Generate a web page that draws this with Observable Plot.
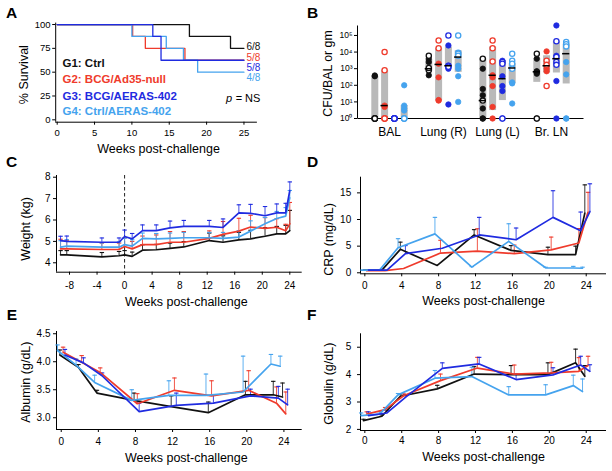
<!DOCTYPE html>
<html><head><meta charset="utf-8">
<script src="https://cdn.jsdelivr.net/npm/d3@7"></script>
<script src="https://cdn.jsdelivr.net/npm/@observablehq/plot@0.6"></script>
<style>
body{margin:0;background:#fff;}
#fig{position:relative;width:612px;height:471px;overflow:hidden;font-family:"Liberation Sans",Arial,Helvetica,sans-serif;background:#fff;}
.panel{position:absolute;}
.letter{position:absolute;font-weight:bold;font-size:15.5px;line-height:1;}
</style></head><body><div id="fig"></div>
<script>
// ---------- shared ----------
const groupNames = ["G1: Ctrl","G2: BCG/Ad35-null","G3: BCG/AERAS-402","G4: Ctrl/AERAS-402"];
const colors = ["#111111","#ef3b2c","#1f2be0","#45a3ee"];

// ---------- A: survival ----------
const survWeeks = [[0,17.7,23.2,25],[0,10.1,11.8,17.1,25],[0,12.8,13.9,25],[0,10.0,14.6,16.9,18.8,25]];
const survPct   = [[100,87.5,75,75],[100,87.5,75,62.5,62.5],[100,87.5,62.5,62.5],[100,87.5,75,62.5,50,50]];
const survLabels = ["6/8","5/8","5/8","4/8"];
const aXTicks = [0,5,10,15,20,25];
const aYTicks = [0,25,50,75,100];

// ---------- B: bacterial burden ----------
const tissues = ["BAL","Lung (R)","Lung (L)","Br. LN"];
const balFilled   = [[390,350,1,1],[6,5,1],[1,1],[100,6,4,3,1]];
const balOpen     = [[1,1,1,1],[10000,800,1,1,1],[1,1,1,1,1,1],[1,1,1]];
const lungRFilled = [[4000,2500,900,1000,400],[2000,300,13,12],[25000,1200,1000,1500,7],[1500,1000,350,10]];
const lungROpen   = [[6000,800,1100],[50000,17000],[100000,1500,1300],[100000,9000,8000,6000]];
const lungLFilled = [[1000,60,25,4,1,1],[400,300,90,5,1],[3000,350,90,45,1],[150,130,8]];
const lungLOpen   = [[4000,12],[50000,17000,2700],[2500,2000,1],[8000,3000,2000,1000]];
const brFilled    = [[4000,700,600,500,650,1],[11000,1500,1000,700],[400000,6000,180,1],[2500,450,1,1]];
const brOpen      = [[8000,1],[3000,1700,90],[45000,5000,2500,1700],[40000,30000,22000]];
const bMedian = [[1,6,1,1],[1000,1800,1500,5000],[12,400,250,1100],[650,1500,4000,8000]];
const bLow    = [[1,1,1,1],[700,12,1200,600],[1,3,12,130],[150,550,550,120]];
const bHigh   = [[350,800,1,6],[3500,17000,20000,12000],[4000,20000,3000,2000],[4000,6000,45000,30000]];
const bYTicks = [1,10,100,1000,10000,100000];

// ---------- C: weight ----------
const cWeeks = [-9.3,-8.4,-3.3,-0.8,0,1.1,2.6,4.6,6.6,8.6,12.3,14.3,16.6,18.3,20.4,22.1,23.4,24];
const cVals = [
  [4.37,4.37,4.28,4.33,4.37,4.30,4.59,4.61,4.67,4.74,5.04,4.96,5.07,5.12,5.24,5.35,5.35,5.50],
  [4.65,4.65,4.62,4.62,4.76,4.65,4.85,4.85,4.96,4.96,5.14,5.33,5.48,5.67,5.61,5.66,5.50,5.82],
  [5.04,5.00,4.96,4.96,5.23,5.12,5.50,5.50,5.63,5.70,5.70,5.65,6.33,6.31,6.20,6.33,6.33,7.38],
  [4.73,4.78,4.73,4.73,4.85,4.78,5.14,5.12,5.14,5.17,5.17,5.14,5.20,5.48,5.82,6.07,6.18,7.04]];
const cErrs = [
  [0.20,0.20,0.20,0.20,0.20,0.20,0.25,0.25,0.25,0.25,0.35,0.30,0.35,0.40,0.40,0.35,0.40,0.95],
  [0.45,0.40,0.30,0.30,0.40,0.35,0.40,0.45,0.50,0.50,0.35,0.60,0.60,0.55,0.50,0.40,0.30,1.00],
  [0.20,0.25,0.20,0.20,0.30,0.25,0.27,0.27,0.32,0.28,0.28,0.40,0.38,0.42,0.43,0.42,0.45,0.40],
  [0.30,0.30,0.20,0.25,0.30,0.30,0.25,0.25,0.25,0.25,0.25,0.28,0.30,0.48,0.30,0.33,0.40,0.34]];

// ---------- D/E/F: lab values ----------
const labWeeks = [0,2,4,8,12,16,20,23,24];
const labDodge = [-0.15,0.2,0.4,-0.4]; // visual dodge per group (weeks)
const dVals = [
  [0.5,0.5,4.4,1.38,7.1,4.2,3.4,3.4,11.2],
  [0.4,0.4,0.8,3.7,4.06,3.6,4.3,5.6,11.4],
  [0.5,0.5,3.6,4.6,7.1,6.2,10.4,7.9,11.5],
  [0.5,0.5,4.7,7.3,1.06,5.9,0.94,0.9,0.85]];
const dErrs = [
  [0,0,1.35,0,1.0,0.9,1.4,1.6,5.3],
  [0,0,0,2.4,4.2,1.6,2.4,2.7,3.7],
  [0,0,1.5,0,3.3,2.2,5.0,3.5,5.2],
  [0,0,1.7,3.1,0.1,3.3,0.1,0.3,0.2]];
const eVals = [
  [4.12,3.90,3.44,3.31,3.20,3.09,3.41,3.41,3.37],
  [4.17,3.99,3.81,3.25,3.49,3.39,3.49,3.26,3.07],
  [4.12,3.98,3.75,3.11,3.22,3.26,3.39,3.35,3.23],
  [4.20,3.94,3.63,3.31,3.40,3.40,3.46,3.96,3.92]];
const eErrs = [
  [0.09,0.05,0.05,0.13,0.19,0.19,0.24,0.24,0.25],
  [0.09,0.12,0.08,0.18,0.22,0.27,0.35,0.29,0.39],
  [0.10,0.09,0.05,0.15,0.22,0.15,0.12,0.21,0.28],
  [0.10,0.11,0.13,0.19,0.26,0.38,0.64,0.17,0.18]];
const fVals = [
  [2.32,2.48,3.21,3.48,4.02,4.00,4.00,4.43,3.94],
  [2.56,2.72,3.23,3.78,4.24,4.02,4.06,4.12,4.33],
  [2.50,2.60,3.17,4.23,4.39,3.82,3.99,4.35,4.12],
  [2.50,2.56,3.26,3.87,3.93,3.26,3.26,3.60,3.38]];
const fErrs = [
  [0.05,0.05,0.08,0.13,0.27,0.33,0.43,0.50,0.39],
  [0.08,0.08,0.07,0.24,0.39,0.33,0.39,0.50,0.34],
  [0.14,0.10,0.08,0.20,0.24,0.20,0.26,0.32,0.24],
  [0.10,0.08,0.05,0.28,0.34,0.30,0.37,0.38,0.46]];

// ---------- helpers ----------
const FONT = "'Liberation Sans', Arial, Helvetica, sans-serif";
const STYLE = `font-family:${FONT};font-size:10px;background:transparent;overflow:visible;color:#000;max-width:none;`;
const fig = document.getElementById("fig");
function place(svg, left, top) {
  const d = document.createElement("div");
  d.className = "panel"; d.style.left = left + "px"; d.style.top = top + "px";
  d.appendChild(svg); fig.appendChild(d);
}
function letter(ch, left, top) {
  const d = document.createElement("div");
  d.className = "letter"; d.textContent = ch;
  d.style.left = left + "px"; d.style.top = top + "px";
  fig.appendChild(d);
}
const cap = {draw(ctx, size) { const r = Math.sqrt(size / Math.PI); ctx.moveTo(-r, 0); ctx.lineTo(r, 0); }};
const sup = ["⁰","¹","²","³","⁴","⁵"];
const drawOrder = [0, 1, 3, 2];
function yTitle(label, dx, dy, size) {
  return Plot.text([label], {text: d => d, frameAnchor: "left", rotate: -90, textAnchor: "middle", lineAnchor: "middle", dx, dy, fontSize: size});
}

// ---------- Panel A ----------
{
  const rows = survWeeks.flatMap((w, gi) => w.map((t, i) => ({gi, t, s: survPct[gi][i]})));
  const marks = [
    Plot.ruleX([-0.2], {stroke: "#000"}),
    Plot.ruleY([-2.5], {stroke: "#000"}),
    Plot.axisX({ticks: aXTicks, tickFormat: d => String(d), tickSize: 3, tickPadding: 3.6, fontSize: 9.5, label: null}),
    Plot.axisY({ticks: aYTicks, tickFormat: d => String(d), tickSize: 3, tickPadding: 2.2, fontSize: 9.5, label: null}),
  ];
  for (const gi of drawOrder) {
    marks.push(Plot.line(rows.filter(d => d.gi === gi), {x: "t", y: "s", curve: "step-after", stroke: colors[gi], strokeWidth: 1.3}));
  }
  const labDy = [24.1, 34.7, 44.7, 55.1];
  survLabels.forEach((lab, gi) => {
    marks.push(Plot.text([lab], {text: d => d, frameAnchor: "top-right", textAnchor: "start", lineAnchor: "middle", dx: -10.9, dy: labDy[gi], fill: colors[gi], fontSize: 10}));
  });
  const legDy = [40.7, 56.7, 72.9, 88.7];
  groupNames.forEach((g, gi) => {
    marks.push(Plot.text([g], {text: d => d, frameAnchor: "top-left", textAnchor: "start", lineAnchor: "middle", dx: 6.8, dy: legDy[gi], fill: colors[gi], fontSize: 11.5, fontWeight: "bold"}));
  });
  marks.push(Plot.text(["p"], {text: d => d, frameAnchor: "top-right", textAnchor: "end", lineAnchor: "middle", dx: -25.2, dy: 75.7, fontSize: 11, fontStyle: "italic"}));
  marks.push(Plot.text(["= NS"], {text: d => d, frameAnchor: "top-right", textAnchor: "end", lineAnchor: "middle", dx: 3, dy: 75.7, fontSize: 11}));
  marks.push(Plot.text(["Weeks post-challenge"], {text: d => d, frameAnchor: "bottom", textAnchor: "middle", lineAnchor: "bottom", dx: 2, dy: 30.3, fontSize: 12.5}));
  marks.push(yTitle("% Survival", -31.9, 2, 12.5));
  const svg = Plot.plot({
    width: 300, height: 160, marginLeft: 55.2, marginRight: 43.1, marginTop: 22.6, marginBottom: 38.3,
    x: {domain: [-0.2, 26.8]}, y: {domain: [-2.5, 101.5]}, style: STYLE, marks
  });
  place(svg, 0, 0);
}

// ---------- Panel B ----------
{
  const bFilled = [balFilled, lungRFilled, lungLFilled, brFilled];
  const bOpen = [balOpen, lungROpen, lungLOpen, brOpen];
  const dots = [];
  tissues.forEach((t, ti) => [0,1,2,3].forEach(gi => {
    bFilled[ti][gi].forEach(v => dots.push({t, gi, v, open: false}));
    bOpen[ti][gi].forEach(v => dots.push({t, gi, v, open: true}));
  }));
  const stats = tissues.flatMap((t, ti) => [0,1,2,3].map(gi => ({t, gi, med: bMedian[ti][gi], lo: bLow[ti][gi], hi: bHigh[ti][gi]})));
  const W = 312, H = 160, ml = 57, mr = 29, mt = 25, mb = 42;
  const fw = W - ml - mr, fh = H - mt - mb;
  const gOff = [-14.7, -4.9, 4.9, 14.7];
  const bandInset = 23.4;
  const marks = [
    Plot.frame({stroke: "#000", strokeWidth: 1, strokeDasharray: `0 ${fw + fh} ${fw + fh}`}),
    Plot.axisX({tickSize: 0, tickPadding: 8.7, fontSize: 12, label: null}),
    Plot.axisY({ticks: bYTicks, tickFormat: d => "10" + sup[Math.round(Math.log10(d))], tickSize: 3, tickPadding: 2, fontSize: 8.5, label: null}),
  ];
  for (let gi = 0; gi < 4; gi++) {
    marks.push(Plot.ruleX(stats.filter(d => d.gi === gi), {x: "t", y1: "lo", y2: "hi", dx: gOff[gi], stroke: "#b9b9b9", strokeWidth: 7}));
  }
  for (let gi = 0; gi < 4; gi++) {
    const c = colors[gi];
    marks.push(Plot.dot(dots.filter(d => d.gi === gi && !d.open), {x: "t", y: "v", dx: gOff[gi], r: 2.7, fill: c, stroke: c, strokeWidth: 0.8}));
    marks.push(Plot.dot(dots.filter(d => d.gi === gi && d.open), {x: "t", y: "v", dx: gOff[gi], r: 2.6, fill: "white", stroke: c, strokeWidth: 1.3}));
  }
  for (let gi = 0; gi < 4; gi++) {
    marks.push(Plot.tickY(stats.filter(d => d.gi === gi && d.med > 1), {x: "t", y: "med", dx: gOff[gi], insetLeft: bandInset, insetRight: bandInset, stroke: "#000", strokeWidth: 1.5}));
  }
  marks.push(yTitle("CFU/BAL or gm", -29.3, 1.5, 12.3));
  const svg = Plot.plot({
    width: W, height: H, marginLeft: ml, marginRight: mr, marginTop: mt, marginBottom: mb,
    x: {type: "band", domain: tissues, range: [60.6, 279.9], padding: 0},
    y: {type: "log", domain: [1, Math.pow(10, 5.6)]},
    style: STYLE, marks
  });
  place(svg, 300, 0);
}

// ---------- line panels C-F ----------
function linePanel(cfg) {
  const rows = [];
  for (let gi = 0; gi < 4; gi++) {
    const w = cfg.weeks(gi);
    cfg.vals[gi].forEach((v, i) => rows.push({gi, x: w[i], v, e: cfg.errs[gi][i]}));
  }
  const marks = [
    Plot.ruleX([cfg.xDomain[0]], {stroke: "#000"}),
    Plot.ruleY([cfg.yDomain[0]], {stroke: "#000"}),
  ];
  if (cfg.dashed) marks.push(Plot.ruleX([0], {stroke: "#222", strokeDasharray: "3.5,2.5", strokeWidth: 1}));
  for (const gi of drawOrder) {
    const r = rows.filter(d => d.gi === gi && d.e > 0);
    marks.push(Plot.ruleX(r, {x: "x", y1: "v", y2: d => d.v + d.e, stroke: colors[gi], strokeWidth: 1, strokeOpacity: 0.85}));
    marks.push(Plot.dot(r, {x: "x", y: d => d.v + d.e, symbol: cap, r: 2.2, stroke: colors[gi], strokeWidth: 1.1, fill: "none"}));
  }
  for (const gi of drawOrder) {
    marks.push(Plot.line(rows.filter(d => d.gi === gi), {x: "x", y: "v", stroke: colors[gi], strokeWidth: 1.7}));
  }
  marks.push(Plot.axisX({ticks: cfg.xTicks, tickFormat: d => String(d), tickSize: 3, tickPadding: cfg.xPad, fontSize: 10, label: null}));
  marks.push(Plot.axisY({ticks: cfg.yTicks, tickFormat: cfg.yFmt || (d => String(d)), tickSize: 3, tickPadding: cfg.yPad, fontSize: 10, label: null}));
  marks.push(Plot.text(["Weeks post-challenge"], {text: d => d, frameAnchor: "bottom", textAnchor: "middle", lineAnchor: "bottom", dx: cfg.xTitleDx, dy: cfg.xTitleDy, fontSize: 12.5}));
  marks.push(yTitle(cfg.yTitle, cfg.yTitleDx, cfg.yTitleDy, 12.5));
  const svg = Plot.plot({
    width: cfg.width, height: cfg.height, marginLeft: cfg.ml, marginRight: cfg.mr, marginTop: cfg.mt, marginBottom: cfg.mb,
    x: {domain: cfg.xDomain}, y: {domain: cfg.yDomain}, style: STYLE, marks
  });
  place(svg, cfg.left, cfg.top);
}
const labWeeksFor = gi => labWeeks.map(w => w + labDodge[gi]);
const labTicks = [0,4,8,12,16,20,24];

linePanel({left: 0, top: 150, width: 310, height: 160, ml: 56, mr: 8.3, mt: 25, mb: 38.3,
  xDomain: [-9.89, 25.8], yDomain: [3.56, 8.08], xTicks: [-8,-4,0,4,8,12,16,20,24], yTicks: [4,5,6,7,8],
  vals: cVals, errs: cErrs, weeks: () => cWeeks, dashed: true,
  xPad: 7, yPad: 3, xTitleDx: 7, xTitleDy: 34, yTitle: "Weight (kg)", yTitleDx: -31, yTitleDy: 5});

linePanel({left: 300, top: 150, width: 312, height: 160, ml: 60, mr: 6, mt: 26.7, mb: 36.7,
  xDomain: [-0.47, 26.2], yDomain: [-0.19, 17.94], xTicks: labTicks, yTicks: [0,5,10,15],
  vals: dVals, errs: dErrs, weeks: labWeeksFor,
  xPad: 4.7, yPad: 6.3, xTitleDx: 0, xTitleDy: 31.4, yTitle: "CRP (mg/dL)", yTitleDx: -32, yTitleDy: 14});

linePanel({left: 0, top: 305, width: 310, height: 166, ml: 56, mr: 8.3, mt: 26, mb: 42,
  xDomain: [-0.51, 25.97], yDomain: [2.79, 4.54], xTicks: labTicks, yTicks: [3.0,3.5,4.0,4.5], yFmt: d3.format(".1f"),
  vals: eVals, errs: eErrs, weeks: labWeeksFor,
  xPad: 5.7, yPad: 3, xTitleDx: 7, xTitleDy: 32.3, yTitle: "Albumin (g/dL)", yTitleDx: -31, yTitleDy: 1.7});

linePanel({left: 300, top: 305, width: 312, height: 166, ml: 60, mr: 6, mt: 28.3, mb: 41,
  xDomain: [-0.47, 26.2], yDomain: [1.96, 5.49], xTicks: labTicks, yTicks: [2,3,4,5],
  vals: fVals, errs: fErrs, weeks: labWeeksFor,
  xPad: 3.7, yPad: 6.3, xTitleDx: 0, xTitleDy: 30.7, yTitle: "Globulin (g/dL)", yTitleDx: -32, yTitleDy: 1.5});

// ---------- panel letters ----------
letter("A", 6, 4.9); letter("B", 307, 4.9);
letter("C", 6, 153.9); letter("D", 307, 153.9);
letter("E", 6.7, 306.9); letter("F", 307, 306.9);
</script></body></html>
